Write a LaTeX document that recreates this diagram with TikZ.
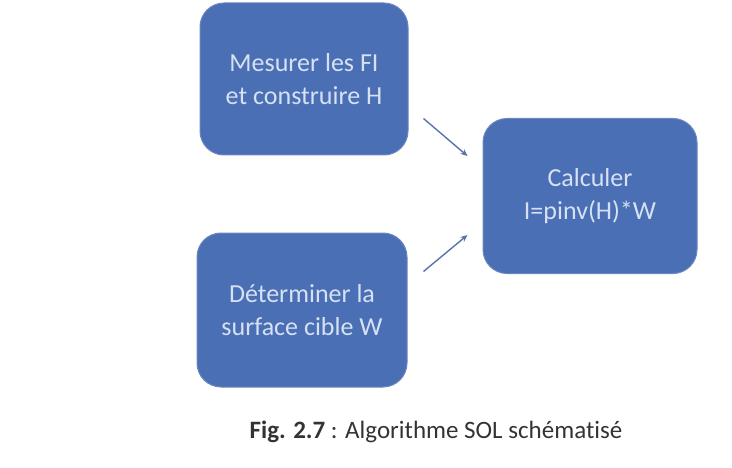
\documentclass[tikz,border=0pt]{standalone}
\usepackage{fontspec}
\setmainfont{Carlito}[Ligatures=NoCommon]
\usetikzlibrary{arrows.meta,positioning,calc}
\definecolor{SolBlue}{HTML}{4A6FB4}
\definecolor{SolEdge}{HTML}{6A87C0}
\definecolor{SolText}{HTML}{D6E1F3}
\definecolor{SolArrow}{HTML}{5C72AC}
\definecolor{CaptionGray}{HTML}{333333}

\begin{document}
\begin{tikzpicture}[x=1pt,y=1pt,>=Stealth,
  stepbox/.style={draw=SolEdge,line width=1pt,fill=SolBlue,rounded corners=24pt,
    text=SolText,align=center,font=\fontsize{26}{33}\selectfont,inner sep=0pt},
  arr/.style={->,SolArrow,line width=1.4pt,arrows={-Stealth[length=7pt,width=6pt]}}]
  \useasboundingbox (0,0) rectangle (732,467);
  \node[stepbox,minimum width=208pt,minimum height=152pt] (mes) at (304,388) {Mesurer les FI\\et construire H};
  \node[stepbox,minimum width=210pt,minimum height=154pt] (det) at (302,157) {Déterminer la\\surface cible W};
  \node[stepbox,minimum width=214pt,minimum height=155pt] (calc) at (590,271) {Calculer\\I=pinv(H)*W};
  \draw[arr] ($(mes.south east)+(15,37)$) -- ($(calc.west)+(-15,40)$);
  \draw[arr] ($(det.north east)+(16,-39)$) -- ($(calc.west)+(-15,-39)$);
  \node[CaptionGray,font=\fontsize{25}{30}\selectfont] (cap) at (436,35) {\textbf{Fig. 2.7} : Algorithme SOL schématisé};
\end{tikzpicture}
\end{document}
